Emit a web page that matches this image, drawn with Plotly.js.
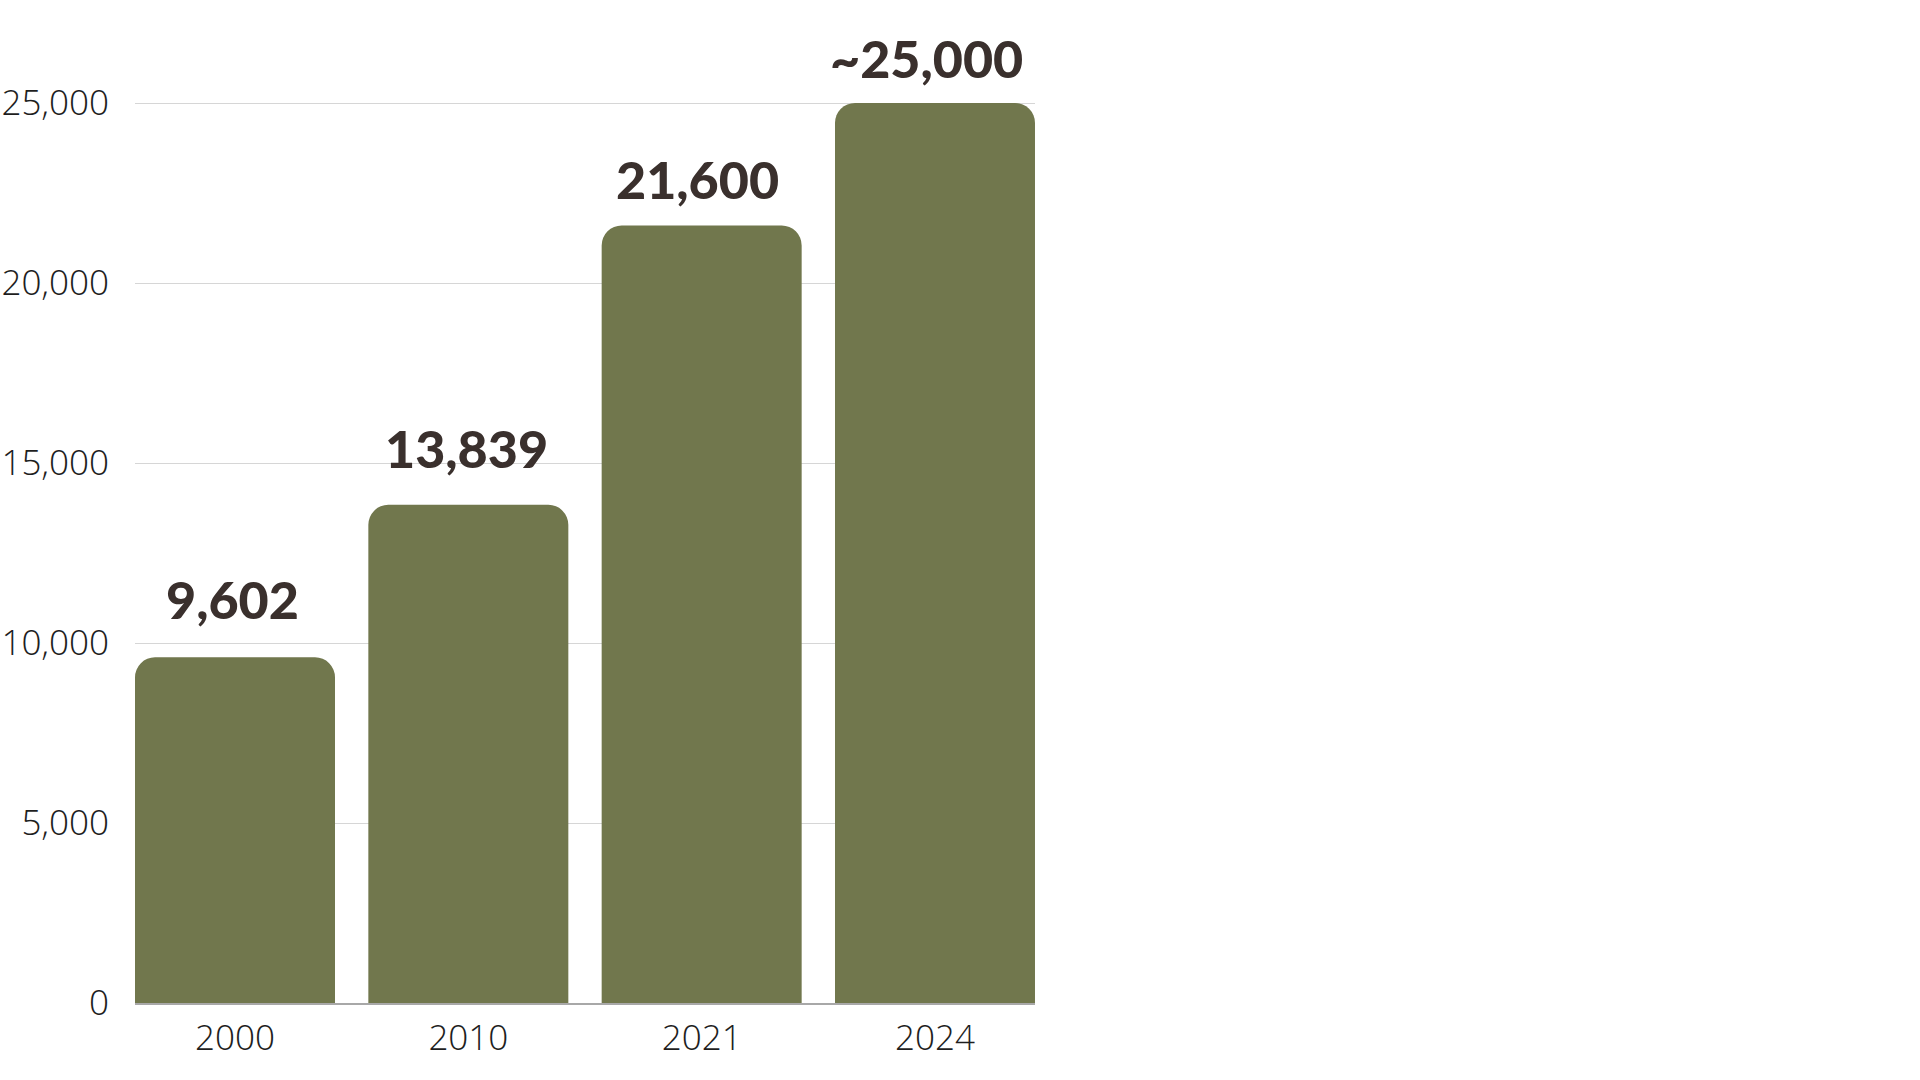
<!DOCTYPE html>
<html>
<head>
<meta charset="utf-8">
<script src="https://cdn.plot.ly/plotly-3.0.1.min.js"></script>
<style>html,body{margin:0;padding:0;background:#fff;}#chart{width:1920px;height:1080px;}</style>
</head>
<body>
<div id="chart"></div>
<script>
const categories = ["2000", "2010", "2021", "2024"];
const values = [9602, 13839, 21600, 25000];
const valueLabels = ["9,602", "13,839", "21,600", "~25,000"];
const yTicks = [0, 5000, 10000, 15000, 20000, 25000];

const barColor = "#71774d";
const labelColor = "#3a302d";
const tickFontFamily = "'Open Sans Light', 'Open Sans', sans-serif";

// per-label pixel nudges (styling only), matching the reference placement
const labelYShift = [25, 24, 13, 12];
const labelXShift = [-3, -2, -4, -8];

const trace = {
  type: "bar",
  x: categories,
  y: values,
  marker: { color: barColor, cornerradius: 20, line: { width: 0 } },
  hoverinfo: "skip"
};

const annotations = categories.map((c, i) => ({
  x: i, y: values[i], xref: "x", yref: "y",
  text: valueLabels[i],
  showarrow: false, yanchor: "bottom", xanchor: "center",
  yshift: labelYShift[i], xshift: labelXShift[i],
  font: { family: "Lato", size: 52, weight: 900, color: labelColor }
}));

const layout = {
  width: 1920, height: 1080,
  margin: { l: 135, r: 885, t: 67, b: 77, pad: 0 },
  paper_bgcolor: "#ffffff", plot_bgcolor: "#ffffff",
  showlegend: false,
  bargap: 0.1429,
  xaxis: {
    type: "category",
    range: [-0.4286, 3.4286],
    showgrid: false,
    showline: true, linecolor: "#a8a8a8", linewidth: 1.5,
    ticks: "", ticklabelstandoff: 3,
    tickfont: { family: tickFontFamily, size: 35, weight: 300, color: "#1e1e1e" },
    fixedrange: true
  },
  yaxis: {
    range: [0, 26000],
    tickvals: yTicks,
    tickformat: ",",
    showgrid: true, gridcolor: "#d6d6d6", gridwidth: 1,
    zeroline: false, showline: false,
    ticks: "", ticklabelstandoff: 25,
    tickfont: { family: tickFontFamily, size: 35, weight: 300, color: "#1e1e1e" },
    fixedrange: true
  },
  annotations: annotations
};

Plotly.newPlot("chart", [trace], layout, { displayModeBar: false, staticPlot: true });
</script>
</body>
</html>
